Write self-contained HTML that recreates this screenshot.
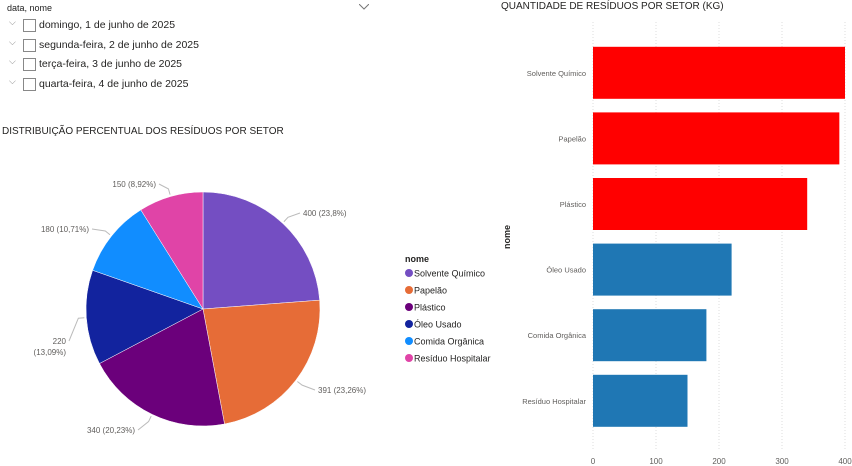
<!DOCTYPE html>
<html><head><meta charset="utf-8"><style>
body{margin:0;width:852px;height:466px;background:#fff;font-family:"Liberation Sans","DejaVu Sans",sans-serif;overflow:hidden;position:relative}
.t{position:absolute;white-space:nowrap}
.cb{position:absolute;width:11px;height:11px;border:1px solid #888;background:#fff}
.chev{position:absolute;color:#888;font-size:9px}
</style></head><body>
<div class="t" style="left:7px;top:3px;font-size:9px;color:#222">data, nome</div>
<svg class="t" style="left:359px;top:4px" width="10" height="6"><path d="M0,0 L5,5 L10,0" fill="none" stroke="#777"/></svg>
<div id="slicer"></div>
<div class="t" style="left:2px;top:126px;font-size:10px;color:#252423">DISTRIBUIÇÃO PERCENTUAL DOS RESÍDUOS POR SETOR</div>
<div class="t" style="left:501px;top:1px;font-size:10px;color:#252423">QUANTIDADE DE RESÍDUOS POR SETOR (KG)</div>
<svg id="pie" width="852" height="466" style="position:absolute;left:0;top:0"></svg>
<script>
const names=["Solvente Químico","Papelão","Plástico","Óleo Usado","Comida Orgânica","Resíduo Hospitalar"];
const barNames=["Solvente Químico","Papelão","Plástico","Óleo Usado","Comida Orgânica","Resíduo Hospitalar"];
const values=[400,391,340,220,180,150];
const pcts=["23,8%","23,26%","20,23%","13,09%","10,71%","8,92%"];
const ticks=[0,100,200,300,400];
const dates=["domingo, 1 de junho de 2025","segunda-feira, 2 de junho de 2025","terça-feira, 3 de junho de 2025","quarta-feira, 4 de junho de 2025"];
const pieColors=["#744EC2","#E66C37","#6B007B","#12239E","#118DFF","#E044A7"];

const NS="http://www.w3.org/2000/svg";
const sl=document.getElementById('slicer');
dates.forEach((d,i)=>{
  const y=18+i*19.7;
  const c=document.createElement('div');c.className='chev';c.textContent='⌵';c.style.left='9px';c.style.top=(y-1)+'px';
  
  
  sl.appendChild(c);
  const b=document.createElement('div');b.className='cb';b.style.left='23px';b.style.top=(y+1)+'px';
  
  
  sl.appendChild(b);
  const t=document.createElement('div');t.className='t';t.textContent=d;t.style.left='39px';t.style.top=(y+1)+'px';t.style.fontSize='10.5px';t.style.color='#252423';
  
  
  sl.appendChild(t);
});

const svg=document.getElementById('pie');
function el(tag,attrs,parent){const e=document.createElementNS(NS,tag);for(const k in attrs)e.setAttribute(k,attrs[k]);(parent||svg).appendChild(e);return e;}
const cx=203,cy=309,r=117;
const total=values.reduce((a,b)=>a+b,0);
let a0=-Math.PI/2;
const lblPos=[[303,216,'start'],[318,393,'start'],[135,433,'end'],[66,344,'end'],[89,232,'end'],[156,187,'end']];
values.forEach((v,i)=>{
  const a1=a0+v/total*2*Math.PI;
  const x0=cx+r*Math.cos(a0),y0=cy+r*Math.sin(a0),x1=cx+r*Math.cos(a1),y1=cy+r*Math.sin(a1);
  const p=el('path',{d:`M${cx},${cy} L${x0},${y0} A${r},${r} 0 ${a1-a0>Math.PI?1:0} 1 ${x1},${y1} Z`,fill:pieColors[i],stroke:'#fff','stroke-width':0.5});
  
  
  const am=(a0+a1)/2;
  const ex=cx+(r+2)*Math.cos(am),ey=cy+(r+2)*Math.sin(am);
  const ox=cx+(r+8)*Math.cos(am),oy=cy+(r+8)*Math.sin(am);
  const [lx,ly,an]=lblPos[i];
  const hx=an==='start'?lx-3:lx+3;
  const ln=el('polyline',{points:`${ex},${ey} ${ox},${oy} ${hx},${ly-3}`,fill:'none',stroke:'#bbb','stroke-width':1});
  
  
  if(i===3){
    const t1=el('text',{x:lx,y:ly,'text-anchor':'end','font-size':8,fill:'#605E5C'});t1.textContent=String(v);
    
    
    const t2=el('text',{x:lx,y:ly+11,'text-anchor':'end','font-size':8,fill:'#605E5C'});t2.textContent='('+pcts[i]+')';
    
    
  }else{
    const t=el('text',{x:lx,y:ly,'text-anchor':an,'font-size':8,fill:'#605E5C'});t.textContent=v+' ('+pcts[i]+')';
    
    
  }
  a0=a1;
});
const lt=el('text',{x:405,y:262,'font-size':9,'font-weight':'bold',fill:'#252423'});lt.textContent='nome';


names.forEach((n,i)=>{
  const y=273+i*17;
  const c=el('circle',{cx:409,cy:y,r:4,fill:pieColors[i]});
  
  
  const t=el('text',{x:414,y:y+3.5,'font-size':9,fill:'#252423'});t.textContent=n;
  
  
});
const x0b=593,pxPer=252/400;
const xs=v=>x0b+v*pxPer;
const topY=40,bandH=65.6;
ticks.forEach(t=>{
  const g=el('line',{x1:xs(t),x2:xs(t),y1:22,y2:450,stroke:'#ddd','stroke-dasharray':'1,2'});
  
  
  const tx=el('text',{x:xs(t),y:464,'text-anchor':'middle','font-size':8,fill:'#605E5C'});tx.textContent=t;
  
  
});
values.forEach((v,i)=>{
  const cyb=topY+bandH*(i+0.5);
  const b=el('rect',{x:x0b,y:cyb-26,width:xs(v)-x0b,height:52,fill:i<3?'#FF0000':'#1F77B4'});
  
  
  const t=el('text',{x:586,y:cyb+3,'text-anchor':'end','font-size':7.5,fill:'#605E5C'});t.textContent=barNames[i];
  
  
});
const yt=el('text',{x:0,y:0,'font-size':9,'font-weight':'bold',fill:'#252423','text-anchor':'middle',transform:'translate(510,237) rotate(-90)'});yt.textContent='nome';


</script>
</body></html>
